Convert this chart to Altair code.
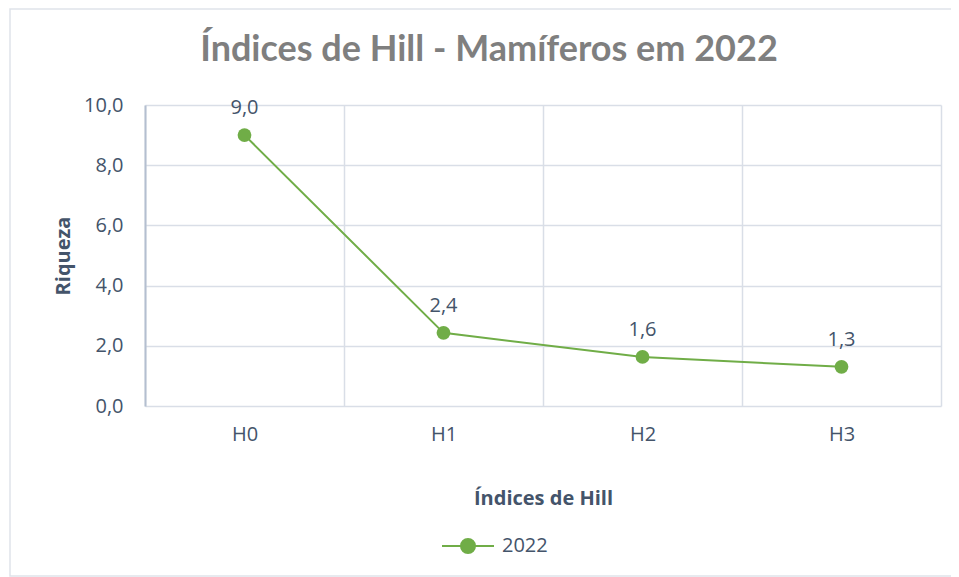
import altair as alt
import pandas as pd

categorias = ["H0", "H1", "H2", "H3"]
valores = [9.0, 2.43, 1.63, 1.30]
serie = ["2022", "2022", "2022", "2022"]

df = pd.DataFrame({"indice": categorias, "valor": valores, "serie": serie})

VERDE = "#70ad47"
TXT = "#44546a"
GRID = "#d9dee7"
FONT = "Open Sans"
TFONT = "Lato"

W, H = 796, 301

x_enc = alt.X(
    "indice:N",
    sort=categorias,
    scale=alt.Scale(paddingInner=0, paddingOuter=0),
    axis=alt.Axis(
        title="Índices de Hill",
        titleFontWeight="bold",
        titleFontSize=20,
        titleColor=TXT,
        titleFont=FONT,
        titlePadding=44,
        labelAngle=0,
        labelFontSize=20,
        labelColor=TXT,
        labelFont=FONT,
        labelPadding=18,
        ticks=False,
        domain=False,
        grid=True,
        gridColor=GRID,
        gridWidth=1.5,
        tickBand="extent",
    ),
)

y_enc = alt.Y(
    "valor:Q",
    scale=alt.Scale(domain=[0, 10], nice=False),
    axis=alt.Axis(
        title="Riqueza",
        titleFontWeight="bold",
        titleFontSize=20,
        titleColor=TXT,
        titleFont=FONT,
        titlePadding=10,
        values=[0, 2, 4, 6, 8, 10],
        labelExpr="replace(format(datum.value, '.1f'), '.', ',')",
        labelFontSize=20,
        labelColor=TXT,
        labelFont=FONT,
        labelPadding=22,
        ticks=False,
        domain=True,
        domainColor="#b4bfd0",
        domainWidth=2,
        grid=True,
        gridColor=GRID,
        gridWidth=1.5,
    ),
)

legend_path = "M-1,0H-0.27M0.27,0H1M-0.27,0A0.27,0.27 0 1,0 0.27,0A0.27,0.27 0 1,0 -0.27,0Z"

base = alt.Chart(df)

line = base.mark_line(
    point=alt.OverlayMarkDef(size=190, filled=True, opacity=1),
    strokeWidth=2,
).encode(
    x=x_enc,
    y=y_enc,
    color=alt.Color(
        "serie:N",
        scale=alt.Scale(range=[VERDE]),
        legend=alt.Legend(
            title=None,
            orient="none",
            legendX=296,
            legendY=414,
            symbolType=legend_path,
            symbolSize=2704,
            symbolStrokeWidth=2,
            symbolFillColor=VERDE,
            symbolStrokeColor=VERDE,
            labelFontSize=20,
            labelColor=TXT,
            labelFont=FONT,
            labelOffset=7,
            padding=0,
        ),
    ),
)

labels = base.transform_calculate(
    rot="replace(format(datum.valor, '.1f'), '.', ',')"
).mark_text(dy=-27, fontSize=20, color=TXT, font=FONT).encode(
    x=alt.X("indice:N", sort=categorias),
    y="valor:Q",
    text="rot:N",
)

border = alt.Chart(pd.DataFrame({"k": [0]})).mark_rect(
    fill=None, stroke="#dfe3ea", strokeWidth=1.5, clip=False
).encode(
    x=alt.value(-135),
    x2=alt.value(W + 12),
    y=alt.value(-96),
    y2=alt.value(H + 170),
)

chart = alt.layer(border, line, labels).properties(
    width=W,
    height=H,
    title=alt.TitleParams(
        "Índices de Hill - Mamíferos em 2022",
        fontSize=36,
        fontWeight="bold",
        color="#7f7f7f",
        font=TFONT,
        anchor="middle",
        dx=-54,
        dy=5,
        offset=-56,
    ),
    autosize=alt.AutoSizeParams(type="none"),
    padding={"left": 137, "top": 97, "right": 10, "bottom": 171},
).configure(font=FONT).configure_view(stroke=None)

chart.save("out.html", embed_options={"renderer": "svg", "actions": False})
